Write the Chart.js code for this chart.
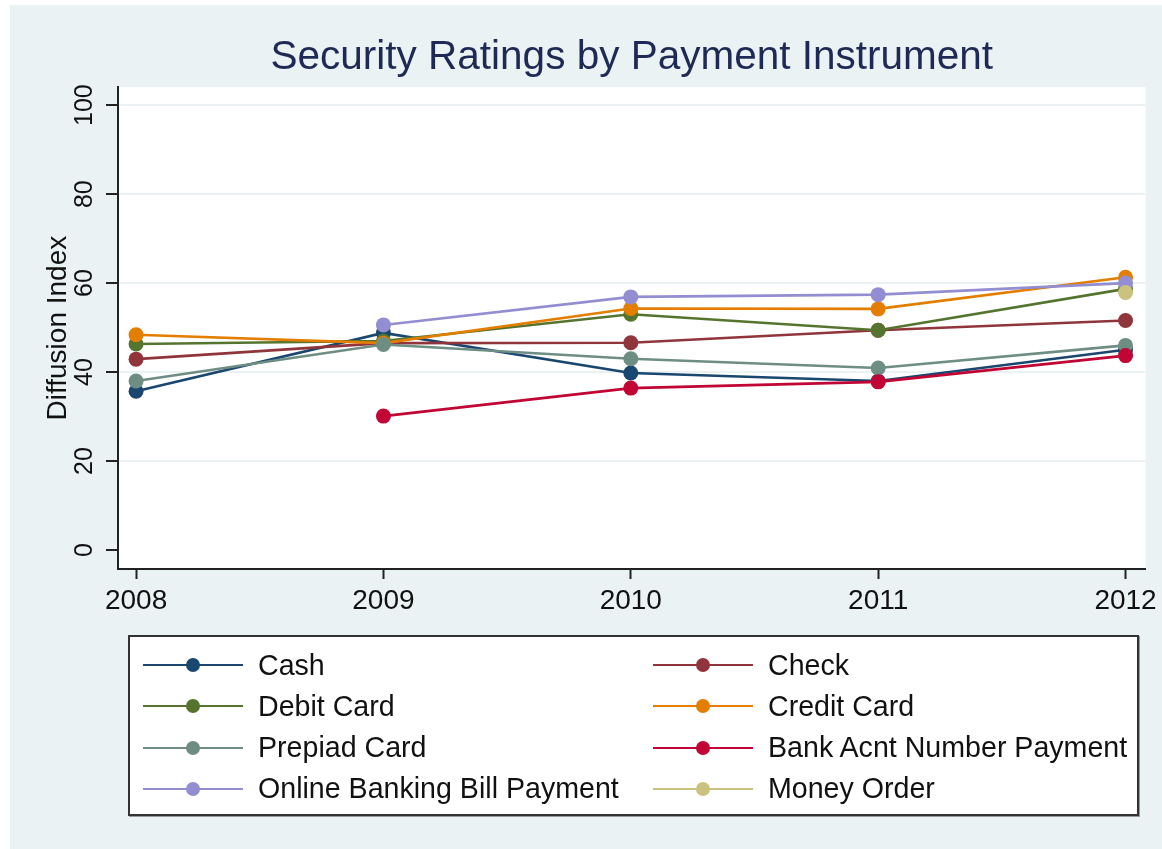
<!DOCTYPE html>
<html>
<head>
<meta charset="utf-8">
<script src="https://cdn.jsdelivr.net/npm/chart.js@4/dist/chart.umd.min.js"></script>
<style>
  html, body { margin: 0; padding: 0; background: #fff; }
  body { width: 1162px; height: 849px; position: relative; overflow: hidden;
         font-family: "Liberation Sans", Arial, Helvetica, sans-serif; }
  #bg { position: absolute; left: 10px; top: 5px; right: 0; bottom: 0; background: #eaf2f3; }
  #chart { position: absolute; left: 0; top: 0; }
  #legend { position: absolute; left: 128px; top: 635px; width: 1007px; height: 177px;
            background: #fff; border: 2px solid #333; box-shadow: 1px 1px 0 #999; }
  .item { position: absolute; height: 30px; display: flex; align-items: center;
          font-size: 28.6px; color: #111; white-space: nowrap; }
  .item svg { margin-right: 15px; }
</style>
</head>
<body>
<div id="bg"></div>
<canvas id="chart" width="1162" height="849"></canvas>
<div id="legend"></div>
<script>
// years on the x axis
const years = [2008, 2009, 2010, 2011, 2012];
const yTicks = [0, 20, 40, 60, 80, 100];

// diffusion index per payment instrument (null = not surveyed)
const cash       = [35.7, 48.8, 39.8, 38.0, 45.0];
const check      = [42.9, 46.5, 46.6, 49.4, 51.6];
const debitCard  = [46.3, 47.0, 53.0, 49.4, 58.7];
const creditCard = [48.4, 46.5, 54.3, 54.2, 61.3];
const prepaid    = [38.0, 46.2, 43.0, 40.9, 46.0];
const bankAcnt   = [null, 30.1, 36.4, 37.8, 43.7];
const onlineBill = [null, 50.6, 56.9, 57.4, 60.0];
const moneyOrder = [null, null, null, null, 57.9];

const seriesNames = ['Cash', 'Check', 'Debit Card', 'Credit Card', 'Prepiad Card',
  'Bank Acnt Number Payment', 'Online Banking Bill Payment', 'Money Order'];
const seriesData = [cash, check, debitCard, creditCard, prepaid, bankAcnt, onlineBill, moneyOrder];
// stata s2color palette
const seriesColors = ['#1a476f', '#90353b', '#55752f', '#e37e00', '#6e8e84', '#c10534', '#938dd2', '#cac27e'];

const AXIS = '#222';
const FONT = '"Liberation Sans", Arial, Helvetica, sans-serif';

// white plot region like stata's inner plot area
const plotBg = {
  id: 'plotBg',
  beforeDraw(chart) {
    const { ctx, chartArea: a } = chart;
    ctx.save();
    ctx.fillStyle = '#fff';
    ctx.fillRect(a.left, a.top, a.right - a.left, a.bottom - a.top);
    ctx.restore();
  },
};

const datasets = seriesNames.map((name, i) => ({
  label: name,
  data: years.map((yr, j) => ({ x: yr, y: seriesData[i][j] })),
  borderColor: seriesColors[i],
  backgroundColor: seriesColors[i],
  borderWidth: 2.6,
  pointRadius: 7.5,
  pointBorderWidth: 0,
  pointHoverRadius: 7.5,
  tension: 0,
  fill: false,
  order: seriesNames.length - i, // later series on top
}));

const chart = new Chart(document.getElementById('chart'), {
  type: 'line',
  data: { datasets },
  plugins: [plotBg],
  options: {
    responsive: false,
    devicePixelRatio: 1,
    animation: false,
    layout: { padding: { left: 10, right: 15, top: 0, bottom: 220 } },
    scales: {
      x: {
        type: 'linear',
        min: 2007.927,
        max: 2012.081,
        afterBuildTicks: (axis) => { axis.ticks = years.map(v => ({ value: v })); },
        afterFit: (axis) => { axis.height = 60; },
        border: { display: true, color: AXIS, width: 2 },
        grid: { drawOnChartArea: false, tickColor: AXIS, tickLength: 10, tickWidth: 2 },
        ticks: {
          color: '#111', padding: 5, maxRotation: 0, autoSkip: false,
          font: { family: FONT, size: 28 },
          callback: (v) => String(v),
        },
      },
      y: {
        min: -4.27,
        max: 104.04,
        afterBuildTicks: (axis) => { axis.ticks = yTicks.map(v => ({ value: v })); },
        afterFit: (axis) => { axis.width = 108; },
        border: { display: true, color: AXIS, width: 2 },
        grid: {
          color: (c) => (c.tick && c.tick.value === 0 ? 'rgba(0,0,0,0)' : '#eaf2f3'),
          lineWidth: 2, tickColor: AXIS, tickLength: 12, tickWidth: 2,
        },
        ticks: {
          color: '#111', padding: 0, minRotation: 90, maxRotation: 90,
          crossAlign: 'center',
          font: { family: FONT, size: 25 },
          callback: (v) => String(v),
        },
        title: {
          display: true, text: 'Diffusion Index', color: '#111',
          font: { family: FONT, size: 28, lineHeight: 1 },
          padding: { top: 34, bottom: 0 },
        },
      },
    },
    plugins: {
      legend: { display: false },
      tooltip: { enabled: false },
      title: {
        display: true,
        text: 'Security Ratings by Payment Instrument',
        color: '#1e2a55',
        fullSize: false,
        font: { family: FONT, size: 40.5, weight: 'normal', lineHeight: 1.2 },
        padding: { top: 34, bottom: 4.6 },
      },
    },
  },
});

// two-column legend box built from the chart's datasets
const legendEl = document.getElementById('legend');
chart.data.datasets.forEach((ds, i) => {
  const col = i % 2, row = Math.floor(i / 2);
  const item = document.createElement('div');
  item.className = 'item';
  item.style.left = (col === 0 ? 13 : 523) + 'px';
  item.style.top = (13 + row * 41.3) + 'px';
  item.innerHTML =
    `<svg width="100" height="16"><line x1="0" y1="8" x2="100" y2="8" stroke="${ds.borderColor}" stroke-width="2"/>` +
    `<circle cx="50" cy="8" r="7" fill="${ds.borderColor}"/></svg>`;
  const label = document.createElement('span');
  label.textContent = ds.label;
  item.appendChild(label);
  legendEl.appendChild(item);
});
</script>
</body>
</html>
